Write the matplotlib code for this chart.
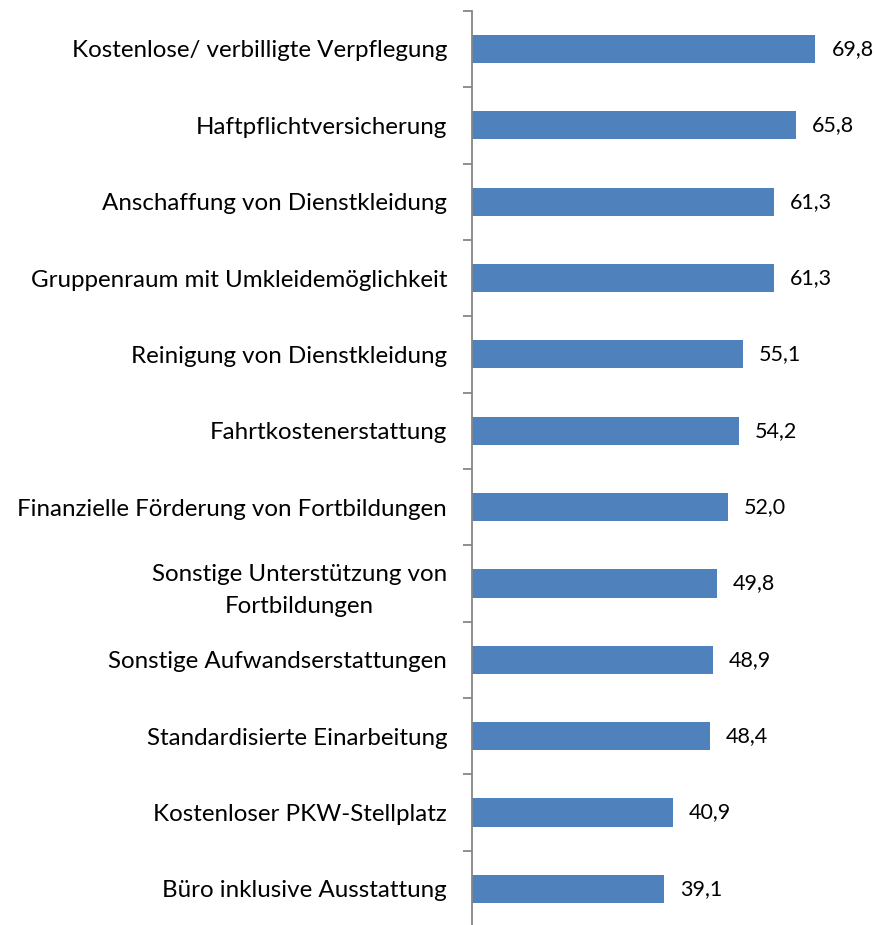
import matplotlib
matplotlib.use("Agg")
import matplotlib.pyplot as plt
import numpy as np

categories = [
    "Kostenlose/ verbilligte Verpflegung",
    "Haftpflichtversicherung",
    "Anschaffung von Dienstkleidung",
    "Gruppenraum mit Umkleidemöglichkeit",
    "Reinigung von Dienstkleidung",
    "Fahrtkostenerstattung",
    "Finanzielle Förderung von Fortbildungen",
    "Sonstige Unterstützung von\nFortbildungen",
    "Sonstige Aufwandserstattungen",
    "Standardisierte Einarbeitung",
    "Kostenloser PKW-Stellplatz",
    "Büro inklusive Ausstattung",
]
values = [69.8, 65.8, 61.3, 61.3, 55.1, 54.2, 52.0, 49.8, 48.9, 48.4, 40.9, 39.1]

plt.rcParams['font.family'] = ['Lato', 'DejaVu Sans']

W, H = 875, 925
fig = plt.figure(figsize=(W/100, H/100), dpi=100)
left = 472/W
top = 1 - 10.8/H
bottom = 1 - 927/H
ax = fig.add_axes([left, bottom, 1 - left, top - bottom])

y = np.arange(len(categories))
ax.barh(y, values, height=0.37, color="#4F81BD")
ax.set_ylim(len(categories) - 0.5, -0.5)
ax.set_xlim(0, (W - 472) / 4.92)

for yi, v in zip(y, values):
    ax.text(v + 16/4.92, yi, f"{v:.1f}".replace(".", ","), va="center", ha="left",
            fontsize=15.5, color="#000000")

ax.set_yticks(y)
ax.set_yticklabels(categories, fontsize=17.4, ha="right", multialignment="center",
                   linespacing=1.6)
ax.tick_params(axis="y", which="major", length=0, pad=18)
ax.set_yticks(np.arange(-0.5, len(categories), 1.0), minor=True)
ax.tick_params(axis="y", which="minor", length=6.5, width=1.3, color="#868686", direction="out")
ax.set_xticks([])
for s in ["top", "right", "bottom"]:
    ax.spines[s].set_visible(False)
ax.spines["left"].set_color("#868686")
ax.spines["left"].set_linewidth(1.3)

fig.savefig("out.png", dpi=100)
